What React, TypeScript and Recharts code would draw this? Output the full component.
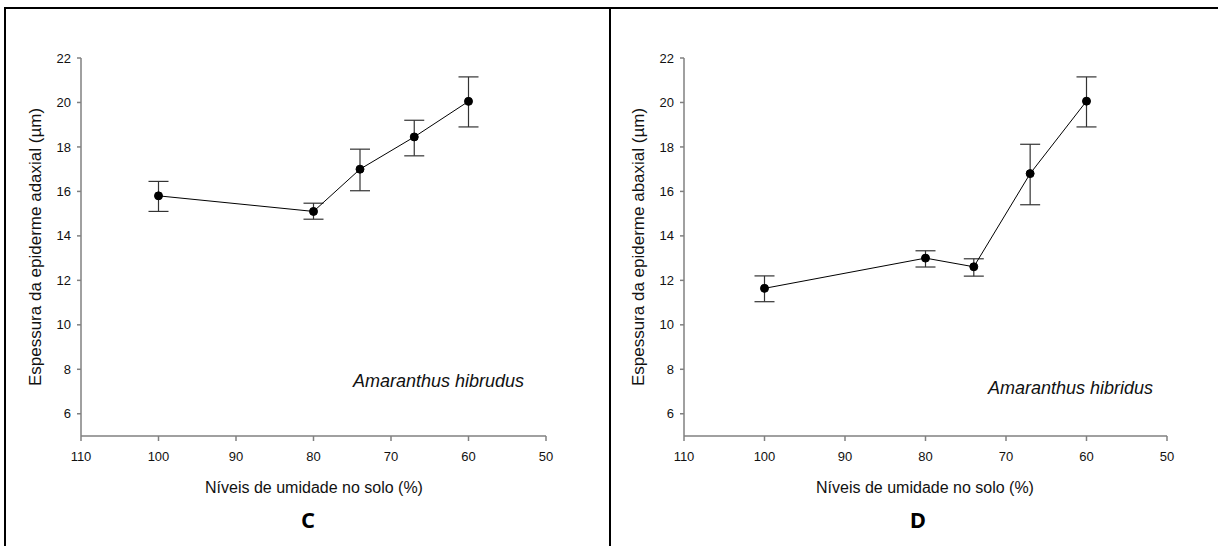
import React from "react";
import { LineChart, Line, XAxis, YAxis, ErrorBar } from "recharts";

// soil moisture levels (%) shared by both panels
const moisture = [100, 80, 74, 67, 60];

// panel C: adaxial epidermis thickness (µm)
const adaxialMean = [15.8, 15.1, 17.0, 18.45, 20.05];
const adaxialHigh = [16.45, 15.47, 17.9, 19.2, 21.15];
const adaxialLow = [15.1, 14.75, 16.03, 17.6, 18.9];

// panel D: abaxial epidermis thickness (µm)
const abaxialMean = [11.64, 13.0, 12.61, 16.8, 20.06];
const abaxialHigh = [12.2, 13.33, 12.97, 18.12, 21.15];
const abaxialLow = [11.04, 12.6, 12.19, 15.4, 18.9];

const xTicks = [110, 100, 90, 80, 70, 60, 50];
const yTicks = [6, 8, 10, 12, 14, 16, 18, 20, 22];

const FONT = '"Liberation Sans", Arial, sans-serif';
const AXIS = "#808080";

function buildRows(mean: number[], high: number[], low: number[]) {
  return moisture.map((x, i) => ({
    x,
    y: mean[i],
    err: [mean[i] - low[i], high[i] - mean[i]],
  }));
}

interface PanelProps {
  left: number;
  width: number;
  margin: { top: number; right: number; bottom: number; left: number };
  rows: { x: number; y: number; err: number[] }[];
  yTitle: string;
  yTitleX: number;
  species: string;
  speciesX: number;
  speciesY: number;
  xTitleX: number;
  letter: string;
  letterX: number;
}

function Panel(p: PanelProps) {
  const tick = { fill: "#111", fontSize: 13, fontFamily: FONT };
  return (
    <>
      <div style={{ position: "absolute", left: p.left, top: 0 }}>
        <LineChart width={p.width} height={546} data={p.rows} margin={p.margin}>
          <XAxis
            type="number"
            dataKey="x"
            domain={[50, 110]}
            ticks={xTicks}
            reversed
            interval={0}
            height={30}
            stroke={AXIS}
            strokeWidth={1.5}
            tickLine={{ stroke: AXIS, strokeWidth: 1.5 }}
            tickSize={5}
            tickMargin={11}
            tick={tick}
          />
          <YAxis
            type="number"
            domain={[5, 22]}
            ticks={yTicks}
            interval={0}
            width={40}
            stroke={AXIS}
            strokeWidth={1.5}
            tickLine={{ stroke: AXIS, strokeWidth: 1.5 }}
            tickSize={4}
            tickMargin={6}
            tick={tick}
          />
          <Line
            type="linear"
            dataKey="y"
            stroke="#000"
            strokeWidth={1}
            dot={{ r: 4, fill: "#000", stroke: "#000", strokeWidth: 1 }}
            activeDot={false}
            isAnimationActive={false}
          >
            <ErrorBar
              dataKey="err"
              direction="y"
              width={10}
              stroke="#333"
              strokeWidth={1.2}
              isAnimationActive={false}
            />
          </Line>
        </LineChart>
      </div>
      <div
        style={{
          position: "absolute",
          left: p.yTitleX,
          top: 247,
          transform: "translate(-50%, -50%) rotate(-90deg)",
          whiteSpace: "nowrap",
          fontFamily: FONT,
          fontSize: 17,
          color: "#111",
        }}
      >
        {p.yTitle}
      </div>
      <div
        style={{
          position: "absolute",
          left: p.speciesX,
          top: p.speciesY,
          transform: "translateY(-50%)",
          whiteSpace: "nowrap",
          fontFamily: FONT,
          fontStyle: "italic",
          fontSize: 18,
          color: "#111",
        }}
      >
        {p.species}
      </div>
      <div
        style={{
          position: "absolute",
          left: p.xTitleX,
          top: 488,
          transform: "translate(-50%, -50%)",
          whiteSpace: "nowrap",
          fontFamily: FONT,
          fontSize: 16,
          color: "#111",
        }}
      >
        Níveis de umidade no solo (%)
      </div>
      <div
        style={{
          position: "absolute",
          left: p.letterX,
          top: 519,
          transform: "translate(-50%, -50%)",
          fontFamily: '"Open Sans", sans-serif',
          fontWeight: 700,
          fontSize: 22,
          color: "#000",
        }}
      >
        {p.letter}
      </div>
    </>
  );
}

export default function App() {
  const rowsC = buildRows(adaxialMean, adaxialHigh, adaxialLow);
  const rowsD = buildRows(abaxialMean, abaxialHigh, abaxialLow);

  return (
    <div
      style={{
        position: "absolute",
        left: 0,
        top: 0,
        width: 1218,
        height: 546,
        background: "#fff",
        overflow: "hidden",
      }}
    >
      {/* frame lines */}
      <div style={{ position: "absolute", left: 4, top: 7, width: 1214, height: 2, background: "#000" }} />
      <div style={{ position: "absolute", left: 4, top: 7, width: 2, height: 539, background: "#000" }} />
      <div style={{ position: "absolute", left: 609, top: 7, width: 2, height: 539, background: "#000" }} />

      <Panel
        left={0}
        width={608}
        margin={{ top: 58, right: 62, bottom: 80, left: 41 }}
        rows={rowsC}
        yTitle="Espessura da epiderme adaxial (µm)"
        yTitleX={36}
        species="Amaranthus hibrudus"
        speciesX={353}
        speciesY={381}
        xTitleX={314}
        letter="C"
        letterX={308}
      />
      <Panel
        left={608}
        width={610}
        margin={{ top: 58, right: 51, bottom: 80, left: 36 }}
        rows={rowsD}
        yTitle="Espessura da epiderme abaxial (µm)"
        yTitleX={639}
        species="Amaranthus hibridus"
        speciesX={988}
        speciesY={388}
        xTitleX={925}
        letter="D"
        letterX={918}
      />
    </div>
  );
}
